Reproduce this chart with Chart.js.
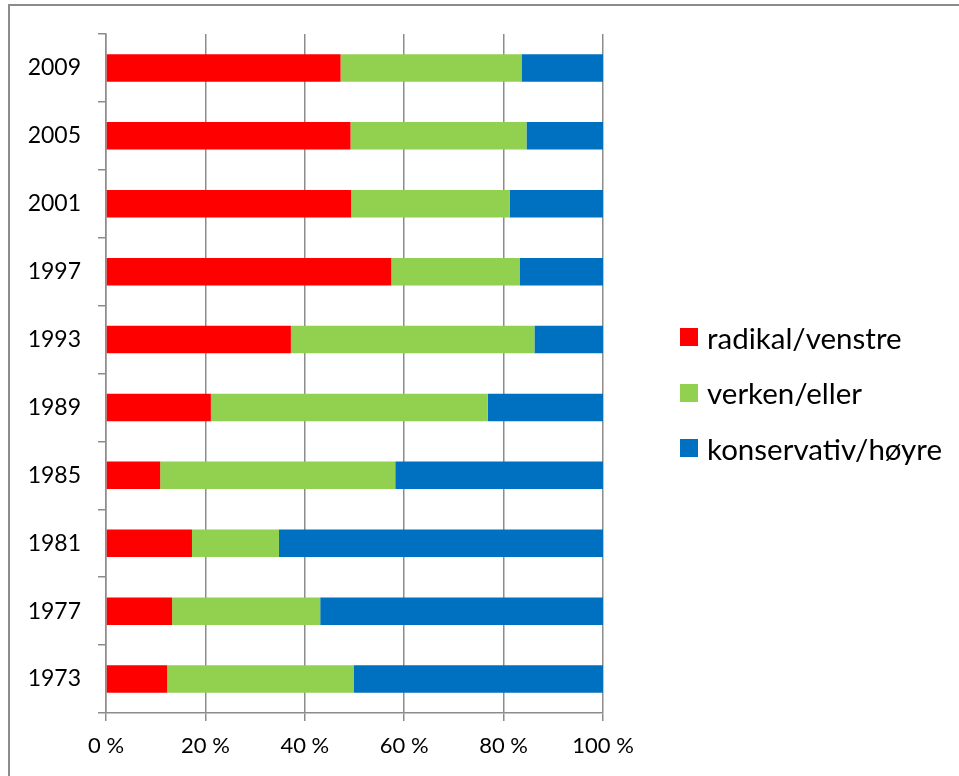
<!DOCTYPE html>
<html>
<head>
<meta charset="utf-8">
<script src="https://cdn.jsdelivr.net/npm/chart.js@4/dist/chart.umd.min.js"></script>
<style>
  html, body { margin: 0; padding: 0; background: #fff; }
  body { width: 959px; height: 776px; position: relative; overflow: hidden; font-family: Lato, "Open Sans", sans-serif; }
  .frame { position: absolute; left: 8px; top: 4px; width: 2000px; height: 2000px; border-left: 2px solid #8c8c8c; border-top: 2px solid #8c8c8c; }
  .chart-box { position: absolute; left: 0; top: 0; width: 959px; height: 776px; }
  #legend { position: absolute; left: 680px; top: 322px; }
  .legend-row { display: flex; align-items: center; height: 30px; margin-bottom: 25.5px; font-size: 29.5px; color: #000; white-space: nowrap; }
  .legend-dot { width: 18px; height: 18px; margin-right: 9px; flex: none; }
</style>
</head>
<body>
<div class="frame"></div>
<div class="chart-box"><canvas id="voteChart" width="959" height="776"></canvas></div>
<div id="legend"></div>
<script>
const years = ["2009", "2005", "2001", "1997", "1993", "1989", "1985", "1981", "1977", "1973"];
const radikal = [47.2, 49.2, 49.3, 57.4, 37.2, 21.1, 10.9, 17.3, 13.3, 12.3];
const verken = [36.4, 35.4, 31.9, 25.9, 49.0, 55.7, 47.3, 17.5, 29.8, 37.6];
const konservativ = [16.4, 15.4, 18.8, 16.7, 13.8, 23.2, 41.8, 65.2, 56.9, 50.1];
const seriesNames = ["radikal/venstre", "verken/eller", "konservativ/høyre"];
const seriesColors = ["#ff0000", "#92d050", "#0070c0"];
const xTicks = [0, 20, 40, 60, 80, 100];

const gridGray = "#8c8c8c";

const ctx = document.getElementById("voteChart");
new Chart(ctx, {
  type: "bar",
  data: {
    labels: years,
    datasets: [radikal, verken, konservativ].map((values, i) => ({
      label: seriesNames[i],
      data: values,
      backgroundColor: seriesColors[i],
      borderWidth: 0,
      categoryPercentage: 0.405,
      barPercentage: 1,
    })),
  },
  options: {
    indexAxis: "y",
    responsive: false,
    animation: false,
    layout: { padding: { left: 0, right: 356, top: 34, bottom: 0 } },
    plugins: { legend: { display: false }, tooltip: { enabled: false } },
    scales: {
      x: {
        stacked: true,
        min: 0,
        max: 100,
        afterBuildTicks: (scale) => { scale.ticks = xTicks.map((v) => ({ value: v })); },
        afterFit: (scale) => { scale.height = 63; },
        grid: { color: gridGray, lineWidth: 1.5, tickLength: 8, drawTicks: true },
        border: { display: true, color: gridGray, width: 1.5 },
        ticks: { color: "#000", font: { family: "Lato", size: 22 }, padding: 12, callback: (v) => v + " %" },
      },
      y: {
        stacked: true,
        afterFit: (scale) => { scale.width = 106; },
        grid: { offset: true, drawOnChartArea: false, color: gridGray, lineWidth: 1.5, tickLength: 8 },
        border: { display: true, color: gridGray, width: 1.5 },
        ticks: { color: "#000", font: { family: "Lato", size: 23 }, padding: 17 },
      },
    },
  },
});

const legend = document.getElementById("legend");
legend.innerHTML = seriesNames
  .map((name, idx) => `
    <div class="legend-row">
      <span class="legend-dot" style="background:${seriesColors[idx]}"></span>
      <span>${name}</span>
    </div>`)
  .join("");
</script>
</body>
</html>
